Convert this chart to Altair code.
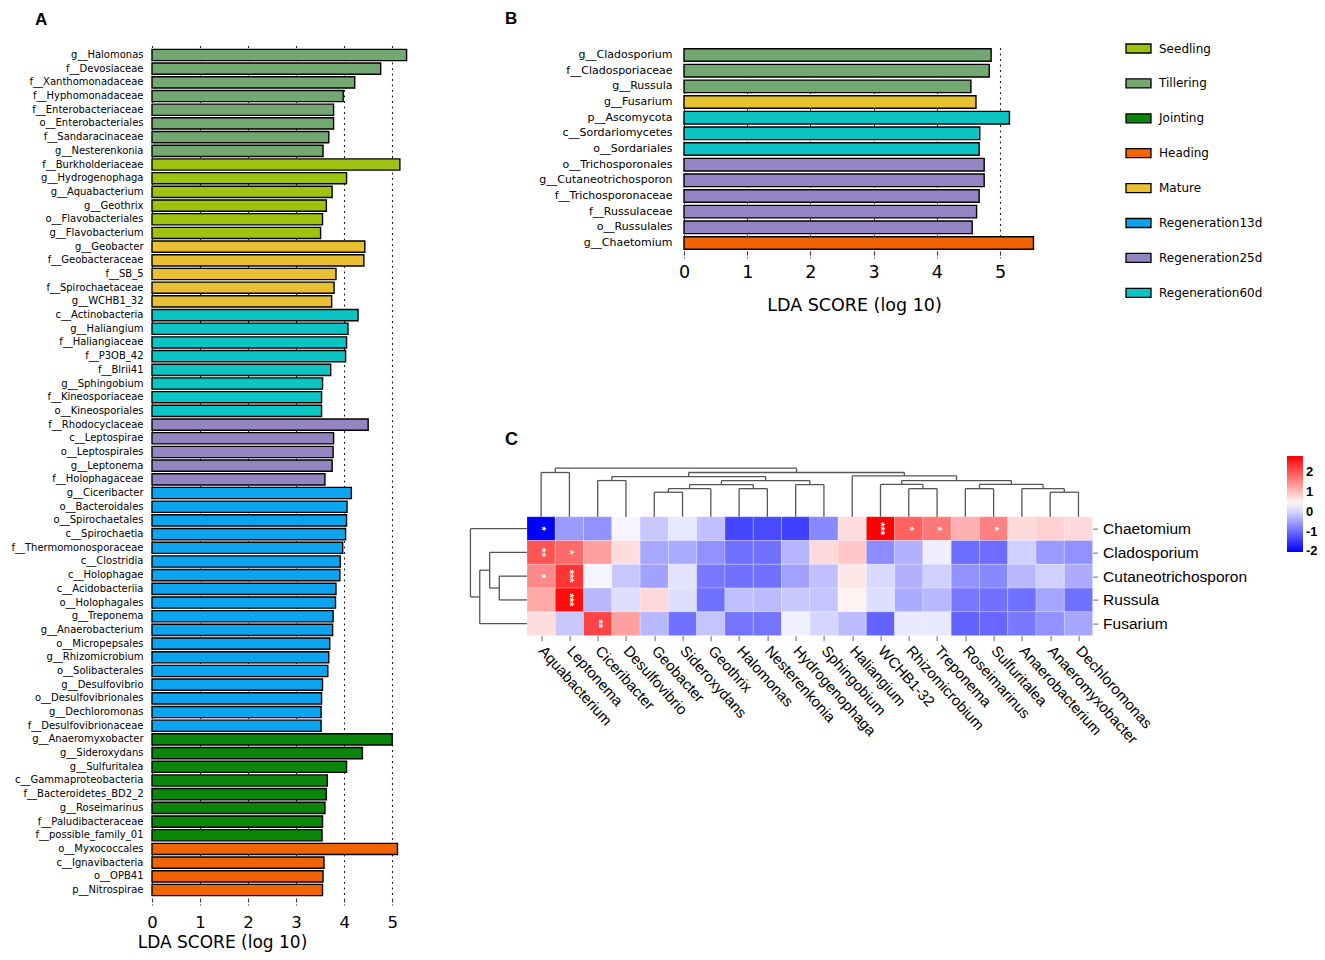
import altair as alt
import pandas as pd

# ---------------- Panel A data ----------------
a_taxa = ["g__Halomonas", "f__Devosiaceae", "f__Xanthomonadaceae", "f__Hyphomonadaceae",
          "f__Enterobacteriaceae", "o__Enterobacteriales", "f__Sandaracinaceae", "g__Nesterenkonia",
          "f__Burkholderiaceae", "g__Hydrogenophaga", "g__Aquabacterium", "g__Geothrix",
          "o__Flavobacteriales", "g__Flavobacterium",
          "g__Geobacter", "f__Geobacteraceae", "f__SB_5", "f__Spirochaetaceae", "g__WCHB1_32",
          "c__Actinobacteria", "g__Haliangium", "f__Haliangiaceae", "f__P3OB_42", "f__Blrii41",
          "g__Sphingobium", "f__Kineosporiaceae", "o__Kineosporiales",
          "f__Rhodocyclaceae", "c__Leptospirae", "o__Leptospirales", "g__Leptonema", "f__Holophagaceae",
          "g__Ciceribacter", "o__Bacteroidales", "o__Spirochaetales", "c__Spirochaetia",
          "f__Thermomonosporaceae", "c__Clostridia", "c__Holophagae", "c__Acidobacteriia",
          "o__Holophagales", "g__Treponema", "g__Anaerobacterium", "o__Micropepsales",
          "g__Rhizomicrobium", "o__Solibacterales", "g__Desulfovibrio", "o__Desulfovibrionales",
          "g__Dechloromonas", "f__Desulfovibrionaceae",
          "g__Anaeromyxobacter", "g__Sideroxydans", "g__Sulfuritalea", "c__Gammaproteobacteria",
          "f__Bacteroidetes_BD2_2", "g__Roseimarinus", "f__Paludibacteraceae", "f__possible_family_01",
          "o__Myxococcales", "c__Ignavibacteria", "o__OPB41", "p__Nitrospirae"]
a_lda = [5.30, 4.76, 4.22, 3.98, 3.78, 3.78, 3.68, 3.56,
         5.16, 4.05, 3.75, 3.63, 3.55, 3.51,
         4.43, 4.41, 3.83, 3.79, 3.74,
         4.29, 4.08, 4.05, 4.03, 3.72, 3.55, 3.53, 3.53,
         4.50, 3.78, 3.77, 3.75, 3.60,
         4.15, 4.06, 4.05, 4.03, 3.97, 3.92, 3.91, 3.83, 3.82, 3.77, 3.76, 3.70, 3.68, 3.66,
         3.55, 3.53, 3.52, 3.52,
         5.00, 4.38, 4.05, 3.65, 3.63, 3.60, 3.55, 3.54,
         5.11, 3.58, 3.56, 3.55]
a_group = (["Tillering"] * 8 + ["Seedling"] * 6 + ["Mature"] * 5 + ["Regeneration60d"] * 8 +
           ["Regeneration25d"] * 5 + ["Regeneration13d"] * 18 + ["Jointing"] * 8 + ["Heading"] * 4)

# ---------------- Panel B data ----------------
b_taxa = ["g__Cladosporium", "f__Cladosporiaceae", "g__Russula", "g__Fusarium", "p__Ascomycota",
          "c__Sordariomycetes", "o__Sordariales", "o__Trichosporonales", "g__Cutaneotrichosporon",
          "f__Trichosporonaceae", "f__Russulaceae", "o__Russulales", "g__Chaetomium"]
b_lda = [4.86, 4.83, 4.54, 4.62, 5.15, 4.68, 4.67, 4.75, 4.75, 4.67, 4.63, 4.56, 5.53]
b_group = (["Tillering"] * 3 + ["Mature"] + ["Regeneration60d"] * 3 + ["Regeneration25d"] * 5 + ["Heading"])

stage_order = ["Seedling", "Tillering", "Jointing", "Heading", "Mature",
               "Regeneration13d", "Regeneration25d", "Regeneration60d"]
stage_colors = ["#9DC20F", "#74A872", "#0A860A", "#F06404", "#E8C032",
                "#0CA4EE", "#9484C2", "#0CC4C4"]

# ---------------- Panel C data ----------------
hm_cols = ["Aquabacterium", "Leptonema", "Ciceribacter", "Desulfovibrio", "Geobacter", "Sideroxydans",
           "Geothrix", "Halomonas", "Nesterenkonia", "Hydrogenophaga", "Sphingobium", "Haliangium",
           "WCHB1-32", "Rhizomicrobium", "Treponema", "Roseimarinus", "Sulfuritalea",
           "Anaerobacterium", "Anaeromyxobacter", "Dechloromonas"]
hm_rows = ["Chaetomium", "Cladosporium", "Cutaneotrichosporon", "Russula", "Fusarium"]
hm_chaetomium = [-2.03, -0.57, -0.65, 0.30, -0.13, 0.18, -0.20, -1.37, -1.34, -1.42,
                 -0.74, 0.72, 2.82, 1.90, 1.68, 1.15, 1.60, 0.76, 0.84, 0.76]
hm_cladosporium = [2.02, 1.80, 1.30, 0.72, -0.43, -0.40, -0.65, -0.96, -0.96, -0.30,
                   0.76, 0.93, -0.70, -0.35, 0.23, -1.00, -1.00, -0.05, -0.57, -0.65]
hm_cutaneo = [1.53, 2.33, 0.30, -0.13, -0.50, 0.13, -0.88, -0.96, -0.96, -0.50,
              -0.20, 0.62, 0.03, -0.35, -0.05, -0.65, -0.74, -0.28, -0.05, -0.40]
hm_russula = [1.22, 2.70, -0.28, 0.08, 0.76, 0.08, -0.96, -0.20, -0.25, -0.13,
              -0.17, 0.50, 0.08, -0.40, -0.28, -0.90, -0.96, -0.96, -0.45, -0.96]
hm_fusarium = [0.72, -0.13, 2.17, 1.30, -0.28, -0.96, -0.17, -0.93, -0.93, 0.25,
               0.00, -0.25, -1.10, 0.18, 0.18, -1.10, -1.05, -0.88, -0.65, -0.45]
hm_values = [hm_chaetomium, hm_cladosporium, hm_cutaneo, hm_russula, hm_fusarium]
hm_stars = [("Chaetomium", "Aquabacterium", "*"), ("Chaetomium", "WCHB1-32", "***"),
            ("Chaetomium", "Rhizomicrobium", "*"), ("Chaetomium", "Treponema", "*"),
            ("Chaetomium", "Sulfuritalea", "*"),
            ("Cladosporium", "Aquabacterium", "**"), ("Cladosporium", "Leptonema", "*"),
            ("Cutaneotrichosporon", "Aquabacterium", "*"), ("Cutaneotrichosporon", "Leptonema", "***"),
            ("Russula", "Leptonema", "***"), ("Fusarium", "Ciceribacter", "**")]
# hierarchical clustering trees: (merge height, left, right), leaves = display index
col_tree = (2.04,
            (1.86, 0, 1),
            (1.86,
             (1.69, (1.52, 2, 3),
              (1.52, (1.35, (1.18, (1.03, 4, 5), 6), (1.18, 7, 8)), (1.35, 9, 10))),
             (1.72, 11,
              (1.52, (1.36, 12, (1.18, 13, 14)),
               (1.36, (1.18, 15, 16), (1.18, 17, (1.03, 18, 19)))))))
row_tree = (2.0, 0, (1.67, (1.32, 1, (0.98, 2, 3)), 4))
color_min, color_mid, color_max = -2.03, 0.395, 2.82
colorbar_ticks = [-2, -1, 0, 1, 2]

# ---------------- helpers ----------------
def dendro(tree, seg):
    if isinstance(tree, int):
        return tree + 0.5, 0.0
    h, l, r = tree
    pl, hl = dendro(l, seg)
    pr, hr = dendro(r, seg)
    seg.append((pl, hl, pl, h))
    seg.append((pr, hr, pr, h))
    seg.append((pl, h, pr, h))
    return (pl + pr) / 2, h

FONT = "DejaVu Sans"
color_scale = alt.Scale(domain=stage_order, range=stage_colors)

def letter(t, dx, offset, size=18):
    return alt.TitleParams(t, anchor="start", frame="group", dx=dx, offset=offset,
                           baseline="alphabetic", fontSize=size, font="Liberation Sans",
                           fontWeight="bold", color="black")

# ---------------- Panel A ----------------
a_df = pd.DataFrame({"taxon": a_taxa, "lda": a_lda, "stage": a_group})
chartA = alt.Chart(a_df).mark_bar(stroke="black", strokeWidth=1.4).encode(
    x=alt.X("lda:Q", scale=alt.Scale(domain=[0, 5.35], nice=False, zero=True),
            axis=alt.Axis(values=[0, 1, 2, 3, 4, 5], format="d", title="LDA SCORE (log 10)",
                          grid=True, gridDash=[2, 3.5], gridColor="#222", gridWidth=1.1,
                          domain=False, tickDash=[2, 2], tickColor="#222", tickSize=5,
                          labelFontSize=16.5, labelPadding=9, labelFont=FONT, labelColor="black",
                          titleFontSize=17, titleFontWeight="normal", titleFont=FONT,
                          titleColor="black", titleX=70, titlePadding=4, labelFlush=False)),
    y=alt.Y("taxon:N", sort=a_taxa, scale=alt.Scale(paddingInner=0.18, paddingOuter=0.32),
            axis=alt.Axis(title=None, ticks=False, domain=False, labelFontSize=10, labelPadding=9,
                          labelFont=FONT, labelColor="black", labelLimit=300)),
    color=alt.Color("stage:N", scale=color_scale, legend=None),
).properties(width=257, height=855, title=letter("A", -117, 3, 17))

# ---------------- Panel B ----------------
b_df = pd.DataFrame({"taxon": b_taxa, "lda": b_lda, "stage": b_group})
chartB = alt.Chart(b_df).mark_bar(stroke="black", strokeWidth=1.4).encode(
    x=alt.X("lda:Q", scale=alt.Scale(domain=[0, 5.57], nice=False, zero=True),
            axis=alt.Axis(values=[0, 1, 2, 3, 4, 5], format="d", title="LDA SCORE (log 10)",
                          grid=True, gridDash=[2, 3.5], gridColor="#222", gridWidth=1.1,
                          domain=False, tickDash=[2, 2], tickColor="#222", tickSize=5,
                          labelFontSize=17.5, labelPadding=5, labelFont=FONT, labelColor="black",
                          titleFontSize=17.5, titleFontWeight="normal", titleFont=FONT,
                          titleColor="black", titleX=170, titlePadding=16, labelFlush=False)),
    y=alt.Y("taxon:N", sort=b_taxa, scale=alt.Scale(paddingInner=0.2, paddingOuter=0.24),
            axis=alt.Axis(title=None, ticks=False, domain=False, labelFontSize=11, labelPadding=12,
                          labelFont=FONT, labelColor="black", labelLimit=300)),
    color=alt.Color("stage:N", scale=color_scale,
                    legend=alt.Legend(orient="none", legendX=441, legendY=-10, title=None,
                                      symbolType="M-1,-0.36H1V0.36H-1Z", symbolSize=625,
                                      symbolStrokeColor="black", symbolStrokeWidth=1.3,
                                      symbolOpacity=1, labelFont=FONT, labelFontSize=12,
                                      labelColor="black", rowPadding=13.9, labelOffset=7,
                                      padding=0)),
).properties(width=352, height=208, title=letter("B", -179, -6, 17))

spacer = alt.Chart(pd.DataFrame({"v": [0]})).mark_point(opacity=0).encode(
    x=alt.value(0), y=alt.value(0)).properties(width=1, height=1)

# ---------------- Panel C ----------------
heat_rows = []
for r, rname in enumerate(hm_rows):
    for c, cname in enumerate(hm_cols):
        heat_rows.append({"x": c, "x2": c + 1, "y": r, "y2": r + 1, "value": hm_values[r][c]})
heat_df = pd.DataFrame(heat_rows)

star_df = pd.DataFrame([{"x": hm_cols.index(cn) + 0.5, "y": hm_rows.index(rn) + 0.5, "lab": s}
                        for rn, cn, s in hm_stars])

segs_top = []
dendro(col_tree, segs_top)
segs_left = []
dendro(row_tree, segs_left)
seg_df = pd.DataFrame(
    [{"x": a, "y": -b, "x2": c, "y2": -d} for a, b, c, d in segs_top] +
    [{"x": -b, "y": a, "x2": -d, "y2": c} for a, b, c, d in segs_left])

col_expr = "[" + ",".join("'" + c + "'" for c in hm_cols) + "][floor(datum.value)]"
row_expr = "[" + ",".join("'" + c + "'" for c in hm_rows) + "][floor(datum.value)]"

xs = alt.Scale(domain=[-2.1, 20], nice=False, zero=False)
ys = alt.Scale(domain=[-2.15, 5], nice=False, zero=False, reverse=True)
x_axis = alt.Axis(values=[i + 0.5 for i in range(len(hm_cols))], labelExpr=col_expr, orient="bottom",
                  domain=False, grid=False, tickColor="#666", tickSize=5, labelAngle=48,
                  labelAlign="left", labelBaseline="middle", labelPadding=7,
                  labelFont="Liberation Sans", labelFontSize=15, labelColor="black", title=None,
                  labelOverlap=False, labelFlush=False)
y_axis = alt.Axis(values=[i + 0.5 for i in range(len(hm_rows))], labelExpr=row_expr, orient="right",
                  domain=False, grid=False, tickColor="#666", tickSize=5, labelPadding=5,
                  labelFont="Liberation Sans", labelFontSize=15.5, labelColor="black", title=None,
                  labelOverlap=False, labelFlush=False)

heat = alt.Chart(heat_df).mark_rect(stroke="#ffffff", strokeWidth=0.4, strokeOpacity=0.6).encode(
    x=alt.X("x:Q", scale=xs, axis=x_axis), x2="x2:Q",
    y=alt.Y("y:Q", scale=ys, axis=y_axis), y2="y2:Q",
    color=alt.Color("value:Q",
                    scale=alt.Scale(domain=[color_min, color_mid, color_max],
                                    range=["#0000ff", "#ffffff", "#ff0000"], interpolate="rgb"),
                    legend=alt.Legend(orient="none", legendX=819.4, legendY=-9.6, direction="vertical",
                                      gradientLength=96, gradientThickness=16, title=None,
                                      values=colorbar_ticks, labelFont="Liberation Sans",
                                      labelExpr="datum.value < 0 ? '-' + abs(datum.value) : '' + datum.value",
                                      labelFontWeight="bold", labelFontSize=13, labelOffset=3,
                                      labelColor="black", gradientStrokeWidth=0)),
)
stars = alt.Chart(star_df).mark_text(angle=90, color="white", fontSize=11, fontWeight="bold",
                                     baseline="middle", align="center").encode(
    x=alt.X("x:Q", scale=xs, axis=x_axis), y=alt.Y("y:Q", scale=ys, axis=y_axis), text="lab:N")
dend = alt.Chart(seg_df).mark_rule(color="#555555", strokeWidth=1.3).encode(
    x=alt.X("x:Q", scale=xs, axis=x_axis), x2="x2:Q",
    y=alt.Y("y:Q", scale=ys, axis=y_axis), y2="y2:Q")

chartC = alt.layer(heat, stars, dend).properties(width=625, height=170, title=letter("C", 37.4, -7))

# ---------------- layout ----------------
top_row = alt.hconcat(spacer, chartB, spacing=215.4, bounds="flush").resolve_scale(color="independent")
right = alt.vconcat(top_row, chartC, spacing=420.6, bounds="flush").resolve_scale(color="independent")
chart = alt.hconcat(chartA, right, spacing=58.6, bounds="flush").resolve_scale(
    color="independent").properties(
    autosize=alt.AutoSizeParams(type="none"),
    padding={"left": 144, "top": 37, "right": 1165, "bottom": 907},
).configure_view(stroke=None)

chart.save("out.html", embed_options={"renderer": "svg", "actions": False})
